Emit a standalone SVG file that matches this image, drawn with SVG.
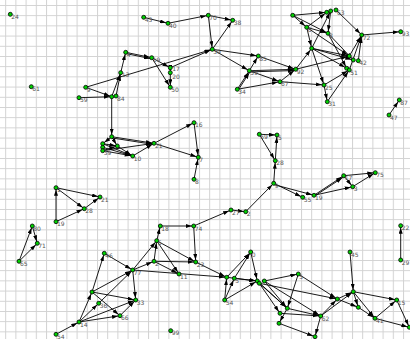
<svg xmlns="http://www.w3.org/2000/svg" width="410" height="339" viewBox="0 0 410 339">
<style>
.e line{stroke:#000;stroke-width:0.9;marker-end:url(#a)}
.n circle{fill:#00d000;stroke:#000;stroke-width:0.8}
.n text{font-family:"DejaVu Sans",sans-serif;font-size:6px;fill:#555}
</style>
<defs>
<marker id="a" viewBox="0 0 6 4" refX="8" refY="2" markerWidth="6" markerHeight="4" markerUnits="userSpaceOnUse" orient="auto"><path d="M0,0L6,2L0,4z"/></marker>
<pattern id="g" x="5.2" y="5" width="10.2" height="10.2" patternUnits="userSpaceOnUse"><path d="M0 0.5H10.2M0.5 0V10.2" stroke="#d2d2d2" stroke-width="1" fill="none"/></pattern>
</defs>
<rect width="410" height="339" fill="#fff"/>
<rect width="410" height="339" fill="url(#g)"/>
<g class="e" id="edges">
<line x1="79" y1="97.7" x2="111.7" y2="96.7"/>
<line x1="85.7" y1="87.3" x2="111.7" y2="96.7"/>
<line x1="85.7" y1="87.3" x2="212.3" y2="49.3"/>
<line x1="111.7" y1="96.7" x2="120.7" y2="72.7"/>
<line x1="116" y1="96" x2="120.7" y2="72.7"/>
<line x1="120.7" y1="72.7" x2="125.7" y2="52.3"/>
<line x1="125.7" y1="52.3" x2="151.7" y2="57.7"/>
<line x1="125.7" y1="53.5" x2="151.7" y2="58.9"/>
<line x1="151.7" y1="57.7" x2="170.3" y2="67.7"/>
<line x1="151.7" y1="57.7" x2="170.3" y2="87.3"/>
<line x1="170.3" y1="67.7" x2="170.3" y2="72.7"/>
<line x1="170.3" y1="72.7" x2="170.3" y2="87.3"/>
<line x1="170.3" y1="67.7" x2="212.3" y2="49.3"/>
<line x1="143.7" y1="17.3" x2="168" y2="23.3"/>
<line x1="168" y1="23.3" x2="208.3" y2="15.3"/>
<line x1="208.3" y1="15.3" x2="232.7" y2="20.3"/>
<line x1="208.3" y1="15.3" x2="212.3" y2="49.3"/>
<line x1="212.3" y1="49.3" x2="232.7" y2="20.3"/>
<line x1="212.3" y1="49.3" x2="258.3" y2="56"/>
<line x1="212.3" y1="49.3" x2="249.3" y2="70.7"/>
<line x1="258.3" y1="56" x2="295.7" y2="69.3"/>
<line x1="249.3" y1="70.7" x2="258.3" y2="56"/>
<line x1="249.3" y1="70.7" x2="295.7" y2="69.3"/>
<line x1="249.3" y1="71.9" x2="295.7" y2="70.5"/>
<line x1="249.3" y1="70.7" x2="280" y2="81.7"/>
<line x1="237.3" y1="89.3" x2="249.3" y2="70.7"/>
<line x1="238.3" y1="89.9" x2="250.3" y2="71.3"/>
<line x1="237.3" y1="89.3" x2="280" y2="81.7"/>
<line x1="280" y1="81.7" x2="295.7" y2="69.3"/>
<line x1="280" y1="81.7" x2="324" y2="85"/>
<line x1="295.7" y1="69.3" x2="311.7" y2="48.3"/>
<line x1="295.7" y1="69.3" x2="349.3" y2="56"/>
<line x1="292.7" y1="15.3" x2="326.7" y2="12.3"/>
<line x1="292.7" y1="15.3" x2="306.7" y2="27.3"/>
<line x1="292.7" y1="15.3" x2="328" y2="33.3"/>
<line x1="306.7" y1="27.3" x2="326.7" y2="12.3"/>
<line x1="306.7" y1="27.3" x2="328" y2="33.3"/>
<line x1="306.7" y1="27.3" x2="349.3" y2="56"/>
<line x1="306.7" y1="27.3" x2="311.7" y2="48.3"/>
<line x1="330.7" y1="11" x2="328" y2="33.3"/>
<line x1="336" y1="10" x2="361.7" y2="35"/>
<line x1="311.7" y1="48.3" x2="330.7" y2="11"/>
<line x1="311.7" y1="48.3" x2="349.3" y2="56"/>
<line x1="311.7" y1="48.3" x2="353.3" y2="60"/>
<line x1="311.7" y1="48.3" x2="324" y2="85"/>
<line x1="311.7" y1="48.3" x2="346.7" y2="68.3"/>
<line x1="328" y1="33.3" x2="353.3" y2="60"/>
<line x1="328" y1="33.3" x2="346.7" y2="68.3"/>
<line x1="349.3" y1="56" x2="361.7" y2="35"/>
<line x1="358.3" y1="60.7" x2="361.7" y2="35"/>
<line x1="349.3" y1="70" x2="361.7" y2="35"/>
<line x1="324" y1="85" x2="349.3" y2="70"/>
<line x1="324" y1="85" x2="327.3" y2="101.7"/>
<line x1="327.3" y1="101.7" x2="349.3" y2="70"/>
<line x1="361.7" y1="35" x2="400.7" y2="31.7"/>
<line x1="389" y1="115" x2="399.3" y2="100"/>
<line x1="111.7" y1="96.7" x2="111.7" y2="136.7"/>
<line x1="111.7" y1="136.7" x2="154" y2="143.3"/>
<line x1="111.7" y1="137.9" x2="154" y2="144.5"/>
<line x1="111.7" y1="136.7" x2="102.7" y2="143.7"/>
<line x1="111.7" y1="136.7" x2="117.3" y2="146"/>
<line x1="102.7" y1="143.7" x2="132.7" y2="156"/>
<line x1="102.7" y1="147.3" x2="132.7" y2="156"/>
<line x1="102.7" y1="150.7" x2="132.7" y2="156"/>
<line x1="102.7" y1="150.7" x2="117.3" y2="146"/>
<line x1="102.7" y1="143.7" x2="117.3" y2="146"/>
<line x1="117.3" y1="146" x2="132.7" y2="156"/>
<line x1="102.7" y1="150.7" x2="154" y2="143.3"/>
<line x1="132.7" y1="156" x2="154" y2="143.3"/>
<line x1="154" y1="143.3" x2="194" y2="122.7"/>
<line x1="154" y1="143.3" x2="198.3" y2="157.3"/>
<line x1="194" y1="122.7" x2="198.3" y2="157.3"/>
<line x1="194" y1="179.3" x2="198.3" y2="157.3"/>
<line x1="56" y1="187.7" x2="84.3" y2="208.7"/>
<line x1="56" y1="187.7" x2="100" y2="197"/>
<line x1="84.3" y1="208.7" x2="100" y2="197"/>
<line x1="56" y1="221.7" x2="56" y2="187.7"/>
<line x1="56" y1="221.7" x2="84.3" y2="208.7"/>
<line x1="259.3" y1="134.3" x2="277" y2="135"/>
<line x1="259.3" y1="134.3" x2="275.3" y2="160.7"/>
<line x1="275.3" y1="160.7" x2="277" y2="135"/>
<line x1="273.7" y1="183.3" x2="275.3" y2="160.7"/>
<line x1="245.7" y1="211.7" x2="273.7" y2="183.3"/>
<line x1="231" y1="210" x2="245.7" y2="211.7"/>
<line x1="193.7" y1="226" x2="231" y2="210"/>
<line x1="273.7" y1="183.3" x2="302.7" y2="197.3"/>
<line x1="273.7" y1="184.5" x2="314" y2="195.3"/>
<line x1="314" y1="195.3" x2="343.7" y2="175.7"/>
<line x1="314" y1="196.5" x2="343.7" y2="176.9"/>
<line x1="314" y1="195.3" x2="352.7" y2="186.7"/>
<line x1="343.7" y1="175.7" x2="352.7" y2="186.7"/>
<line x1="343.7" y1="175.7" x2="375.3" y2="172.7"/>
<line x1="352.7" y1="186.7" x2="375.3" y2="172.7"/>
<line x1="400.7" y1="260" x2="400.7" y2="225.7"/>
<line x1="19" y1="261.3" x2="32.3" y2="226"/>
<line x1="19" y1="261.3" x2="37.3" y2="243.3"/>
<line x1="32.3" y1="226" x2="37.3" y2="243.3"/>
<line x1="56" y1="334.3" x2="79" y2="322"/>
<line x1="79" y1="322" x2="92" y2="292"/>
<line x1="79" y1="322" x2="98.7" y2="303.3"/>
<line x1="79" y1="322" x2="135.7" y2="300"/>
<line x1="79" y1="322" x2="120" y2="315.7"/>
<line x1="92" y1="292" x2="104.3" y2="253.3"/>
<line x1="92" y1="292" x2="132.7" y2="270"/>
<line x1="98.7" y1="303.3" x2="132.7" y2="270"/>
<line x1="104.3" y1="253.3" x2="132.7" y2="270"/>
<line x1="92" y1="292" x2="135.7" y2="300"/>
<line x1="92" y1="292" x2="120" y2="315.7"/>
<line x1="120" y1="315.7" x2="135.7" y2="300"/>
<line x1="132.7" y1="270" x2="135.7" y2="300"/>
<line x1="132.7" y1="270" x2="154" y2="261.3"/>
<line x1="132.7" y1="270" x2="156.7" y2="240.7"/>
<line x1="154" y1="261.3" x2="156.7" y2="240.7"/>
<line x1="156.7" y1="240.7" x2="160.3" y2="226"/>
<line x1="160.3" y1="226" x2="193.7" y2="226"/>
<line x1="193.7" y1="226" x2="195.7" y2="262"/>
<line x1="156.7" y1="240.7" x2="195.7" y2="262"/>
<line x1="156.7" y1="240.7" x2="179" y2="274"/>
<line x1="154" y1="261.3" x2="179" y2="274"/>
<line x1="154" y1="261.3" x2="195.7" y2="262"/>
<line x1="132.7" y1="270" x2="226.7" y2="277.3"/>
<line x1="195.7" y1="262" x2="226.7" y2="277.3"/>
<line x1="226.7" y1="277.3" x2="250.7" y2="252"/>
<line x1="234.3" y1="278.3" x2="250.7" y2="252"/>
<line x1="224.7" y1="300" x2="226.7" y2="277.3"/>
<line x1="224.7" y1="300" x2="234.3" y2="278.3"/>
<line x1="224.7" y1="300" x2="257.3" y2="281"/>
<line x1="226.7" y1="277.3" x2="257.3" y2="281"/>
<line x1="234.3" y1="278.3" x2="257.3" y2="281"/>
<line x1="250.7" y1="252" x2="257.3" y2="281"/>
<line x1="264.3" y1="281" x2="298.3" y2="274"/>
<line x1="257.3" y1="281" x2="287.3" y2="308.3"/>
<line x1="259.3" y1="283.3" x2="287.3" y2="308.3"/>
<line x1="264.3" y1="281" x2="287.3" y2="308.3"/>
<line x1="298.3" y1="274" x2="287.3" y2="308.3"/>
<line x1="259.3" y1="283.3" x2="280" y2="313.3"/>
<line x1="287.3" y1="308.3" x2="279" y2="323.3"/>
<line x1="287.3" y1="308.3" x2="320.7" y2="316"/>
<line x1="280" y1="313.3" x2="320.7" y2="316"/>
<line x1="279" y1="323.3" x2="315" y2="336.7"/>
<line x1="298.3" y1="274" x2="337.3" y2="299"/>
<line x1="350" y1="252" x2="353.3" y2="291.7"/>
<line x1="337.3" y1="299" x2="353.3" y2="291.7"/>
<line x1="353.3" y1="291.7" x2="396.7" y2="300"/>
<line x1="320.7" y1="316" x2="337.3" y2="299"/>
<line x1="320.7" y1="316" x2="353.3" y2="291.7"/>
<line x1="337.3" y1="299" x2="358.3" y2="307.3"/>
<line x1="353.3" y1="291.7" x2="358.3" y2="307.3"/>
<line x1="353.3" y1="291.7" x2="375" y2="318.3"/>
<line x1="358.3" y1="307.3" x2="375" y2="318.3"/>
<line x1="375" y1="318.3" x2="396.7" y2="300"/>
<line x1="375" y1="318.3" x2="409.3" y2="327.3"/>
<line x1="396.7" y1="300" x2="409.3" y2="327.3"/>
<line x1="320.7" y1="316" x2="315" y2="336.7"/>
<line x1="264.3" y1="281" x2="320.7" y2="316"/>
<line x1="259.3" y1="283.3" x2="337.3" y2="299"/>
</g>
<g class="n" id="n24"><circle cx="10.3" cy="14.3" r="2"/><text x="11.3" y="18.8">24</text></g>
<g class="n" id="n61"><circle cx="31.3" cy="86.7" r="2"/><text x="32.3" y="91.2">61</text></g>
<g class="n" id="n9"><circle cx="85.7" cy="87.3" r="2"/><text x="86.7" y="91.8">9</text></g>
<g class="n" id="n59"><circle cx="79" cy="97.7" r="2"/><text x="80" y="102.2">59</text></g>
<g class="n" id="nX"><circle cx="111.7" cy="96.7" r="2"/></g>
<g class="n" id="n84"><circle cx="116" cy="96" r="2"/><text x="117" y="100.5">84</text></g>
<g class="n" id="n13"><circle cx="120.7" cy="72.7" r="2"/><text x="121.7" y="77.2">13</text></g>
<g class="n" id="n4"><circle cx="125.7" cy="52.3" r="2"/><text x="126.7" y="56.8">4</text></g>
<g class="n" id="n43"><circle cx="143.7" cy="17.3" r="2"/><text x="144.7" y="21.8">43</text></g>
<g class="n" id="n40"><circle cx="168" cy="23.3" r="2"/><text x="169" y="27.8">40</text></g>
<g class="n" id="n19"><circle cx="151.7" cy="57.7" r="2"/><text x="152.7" y="62.2">19</text></g>
<g class="n" id="n17"><circle cx="170.3" cy="67.7" r="2"/><text x="172.3" y="70.6">17</text></g>
<g class="n" id="n20"><circle cx="170.3" cy="72.7" r="2"/><text x="172.3" y="78.8">20</text></g>
<g class="n" id="n50"><circle cx="170.3" cy="87.3" r="2"/><text x="171.3" y="91.8">50</text></g>
<g class="n" id="n70"><circle cx="208.3" cy="15.3" r="2"/><text x="209.3" y="19.8">70</text></g>
<g class="n" id="n38"><circle cx="232.7" cy="20.3" r="2"/><text x="233.7" y="24.8">38</text></g>
<g class="n" id="n39"><circle cx="212.3" cy="49.3" r="2"/><text x="213.3" y="53.8">39</text></g>
<g class="n" id="n85"><circle cx="258.3" cy="56" r="2"/><text x="259.3" y="60.5">85</text></g>
<g class="n" id="n59b"><circle cx="249.3" cy="70.7" r="2"/><text x="250.3" y="75.2">59</text></g>
<g class="n" id="n34"><circle cx="237.3" cy="89.3" r="2"/><text x="238.3" y="93.8">34</text></g>
<g class="n" id="n67"><circle cx="280" cy="81.7" r="2"/><text x="281" y="86.2">67</text></g>
<g class="n" id="n92"><circle cx="295.7" cy="69.3" r="2"/><text x="296.7" y="73.8">92</text></g>
<g class="n" id="nT"><circle cx="292.7" cy="15.3" r="2"/></g>
<g class="n" id="nT1"><circle cx="326.7" cy="12.3" r="2"/></g>
<g class="n" id="nT2"><circle cx="330.7" cy="11" r="2"/></g>
<g class="n" id="n63"><circle cx="336" cy="10" r="2"/><text x="337" y="14.5">63</text></g>
<g class="n" id="n6"><circle cx="306.7" cy="27.3" r="2"/><text x="307.7" y="31.8">6</text></g>
<g class="n" id="n8"><circle cx="328" cy="33.3" r="2"/><text x="329" y="37.8">8</text></g>
<g class="n" id="n72"><circle cx="361.7" cy="35" r="2"/><text x="362.7" y="39.5">72</text></g>
<g class="n" id="n93"><circle cx="400.7" cy="31.7" r="2"/><text x="401.7" y="36.2">93</text></g>
<g class="n" id="nT48"><circle cx="311.7" cy="48.3" r="2"/></g>
<g class="n" id="nT82a"><circle cx="349.3" cy="56" r="2"/></g>
<g class="n" id="nT82b"><circle cx="353.3" cy="60" r="2"/></g>
<g class="n" id="n42"><circle cx="358.3" cy="60.7" r="2"/><text x="359.3" y="65.2">42</text></g>
<g class="n" id="nT51a"><circle cx="346.7" cy="68.3" r="2"/></g>
<g class="n" id="n51"><circle cx="349.3" cy="70" r="2"/><text x="350.3" y="74.5">51</text></g>
<g class="n" id="n25"><circle cx="324" cy="85" r="2"/><text x="325" y="89.5">25</text></g>
<g class="n" id="n31"><circle cx="327.3" cy="101.7" r="2"/><text x="328.3" y="106.2">31</text></g>
<g class="n" id="n87"><circle cx="399.3" cy="100" r="2"/><text x="400.3" y="104.5">87</text></g>
<g class="n" id="n47"><circle cx="389" cy="115" r="2"/><text x="390" y="119.5">47</text></g>
<g class="n" id="nMC"><circle cx="111.7" cy="136.7" r="2"/></g>
<g class="n" id="nMC1"><circle cx="102.7" cy="143.7" r="2"/></g>
<g class="n" id="nMC2"><circle cx="102.7" cy="147.3" r="2"/></g>
<g class="n" id="n39m"><circle cx="102.7" cy="150.7" r="2"/><text x="103.7" y="155.2">39</text></g>
<g class="n" id="nMC4"><circle cx="117.3" cy="146" r="2"/></g>
<g class="n" id="n10"><circle cx="132.7" cy="156" r="2"/><text x="133.7" y="160.5">10</text></g>
<g class="n" id="n21m"><circle cx="154" cy="143.3" r="2"/><text x="155" y="147.8">21</text></g>
<g class="n" id="n16"><circle cx="194" cy="122.7" r="2"/><text x="195" y="127.2">16</text></g>
<g class="n" id="n7"><circle cx="198.3" cy="157.3" r="2"/><text x="199.3" y="161.8">7</text></g>
<g class="n" id="n8m"><circle cx="194" cy="179.3" r="2"/><text x="195" y="183.8">8</text></g>
<g class="n" id="n1"><circle cx="56" cy="187.7" r="2"/><text x="57" y="192.2">1</text></g>
<g class="n" id="n21"><circle cx="100" cy="197" r="2"/><text x="101" y="201.5">21</text></g>
<g class="n" id="n28"><circle cx="84.3" cy="208.7" r="2"/><text x="85.3" y="213.2">28</text></g>
<g class="n" id="n19b"><circle cx="56" cy="221.7" r="2"/><text x="57" y="226.2">19</text></g>
<g class="n" id="n59c"><circle cx="259.3" cy="134.3" r="2"/><text x="260.3" y="138.8">59</text></g>
<g class="n" id="n5"><circle cx="277" cy="135" r="2"/><text x="278" y="139.5">5</text></g>
<g class="n" id="n28b"><circle cx="275.3" cy="160.7" r="2"/><text x="276.3" y="165.2">28</text></g>
<g class="n" id="n9m"><circle cx="273.7" cy="183.3" r="2"/><text x="274.7" y="187.8">9</text></g>
<g class="n" id="n27"><circle cx="231" cy="210" r="2"/><text x="232" y="214.5">27</text></g>
<g class="n" id="n2"><circle cx="245.7" cy="211.7" r="2"/><text x="246.7" y="216.2">2</text></g>
<g class="n" id="n55"><circle cx="302.7" cy="197.3" r="2"/><text x="303.7" y="201.8">55</text></g>
<g class="n" id="n19c"><circle cx="314" cy="195.3" r="2"/><text x="315" y="199.8">19</text></g>
<g class="n" id="n17m"><circle cx="343.7" cy="175.7" r="2"/><text x="344.7" y="180.2">17</text></g>
<g class="n" id="n3"><circle cx="352.7" cy="186.7" r="2"/><text x="353.7" y="191.2">3</text></g>
<g class="n" id="n75"><circle cx="375.3" cy="172.7" r="2"/><text x="376.3" y="177.2">75</text></g>
<g class="n" id="n22"><circle cx="400.7" cy="225.7" r="2"/><text x="401.7" y="230.2">22</text></g>
<g class="n" id="n29"><circle cx="400.7" cy="260" r="2"/><text x="401.7" y="264.5">29</text></g>
<g class="n" id="n80"><circle cx="32.3" cy="226" r="2"/><text x="33.3" y="230.5">80</text></g>
<g class="n" id="n71"><circle cx="37.3" cy="243.3" r="2"/><text x="38.3" y="247.8">71</text></g>
<g class="n" id="n65"><circle cx="19" cy="261.3" r="2"/><text x="20" y="265.8">65</text></g>
<g class="n" id="n46"><circle cx="104.3" cy="253.3" r="2"/><text x="105.3" y="257.8">46</text></g>
<g class="n" id="n18"><circle cx="160.3" cy="226" r="2"/><text x="161.3" y="230.5">18</text></g>
<g class="n" id="n74"><circle cx="193.7" cy="226" r="2"/><text x="194.7" y="230.5">74</text></g>
<g class="n" id="n6b"><circle cx="156.7" cy="240.7" r="2"/><text x="157.7" y="245.2">6</text></g>
<g class="n" id="n2b"><circle cx="154" cy="261.3" r="2"/><text x="155" y="265.8">2</text></g>
<g class="n" id="n77"><circle cx="132.7" cy="270" r="2"/><text x="133.7" y="274.5">77</text></g>
<g class="n" id="n11"><circle cx="179" cy="274" r="2"/><text x="180" y="278.5">11</text></g>
<g class="n" id="n23"><circle cx="195.7" cy="262" r="2"/><text x="196.7" y="266.5">23</text></g>
<g class="n" id="n33"><circle cx="135.7" cy="300" r="2"/><text x="136.7" y="304.5">33</text></g>
<g class="n" id="n66"><circle cx="120" cy="315.7" r="2"/><text x="121" y="320.2">66</text></g>
<g class="n" id="n99"><circle cx="170.7" cy="330.7" r="2"/><text x="171.7" y="335.2">99</text></g>
<g class="n" id="nB3"><circle cx="92" cy="292" r="2"/></g>
<g class="n" id="n36"><circle cx="98.7" cy="303.3" r="2"/><text x="99.7" y="307.8">36</text></g>
<g class="n" id="n14"><circle cx="79" cy="322" r="2"/><text x="80" y="326.5">14</text></g>
<g class="n" id="n54b"><circle cx="56" cy="334.3" r="2"/><text x="57" y="338.8">54</text></g>
<g class="n" id="n0"><circle cx="250.7" cy="252" r="2"/><text x="251.7" y="256.5">0</text></g>
<g class="n" id="nB7"><circle cx="226.7" cy="277.3" r="2"/></g>
<g class="n" id="n5b"><circle cx="234.3" cy="278.3" r="2"/><text x="235.3" y="282.8">5</text></g>
<g class="n" id="n54"><circle cx="224.7" cy="300" r="2"/><text x="225.7" y="304.5">54</text></g>
<g class="n" id="nC1"><circle cx="257.3" cy="281" r="2"/></g>
<g class="n" id="nC2"><circle cx="259.3" cy="283.3" r="2"/></g>
<g class="n" id="nC3"><circle cx="264.3" cy="281" r="2"/></g>
<g class="n" id="n5c"><circle cx="298.3" cy="274" r="2"/><text x="299.3" y="278.5">5</text></g>
<g class="n" id="nD1"><circle cx="287.3" cy="308.3" r="2"/></g>
<g class="n" id="nD2"><circle cx="280" cy="313.3" r="2"/></g>
<g class="n" id="nD3"><circle cx="279" cy="323.3" r="2"/></g>
<g class="n" id="n45"><circle cx="350" cy="252" r="2"/><text x="351" y="256.5">45</text></g>
<g class="n" id="nD4"><circle cx="353.3" cy="291.7" r="2"/></g>
<g class="n" id="nD5"><circle cx="337.3" cy="299" r="2"/></g>
<g class="n" id="n62"><circle cx="320.7" cy="316" r="2"/><text x="321.7" y="320.5">62</text></g>
<g class="n" id="nD6"><circle cx="358.3" cy="307.3" r="2"/></g>
<g class="n" id="n41"><circle cx="375" cy="318.3" r="2"/><text x="376" y="322.8">41</text></g>
<g class="n" id="n15"><circle cx="396.7" cy="300" r="2"/><text x="397.7" y="304.5">15</text></g>
<g class="n" id="nD7"><circle cx="409.3" cy="327.3" r="2"/></g>
<g class="n" id="nD8"><circle cx="315" cy="336.7" r="2"/></g>
</svg>
